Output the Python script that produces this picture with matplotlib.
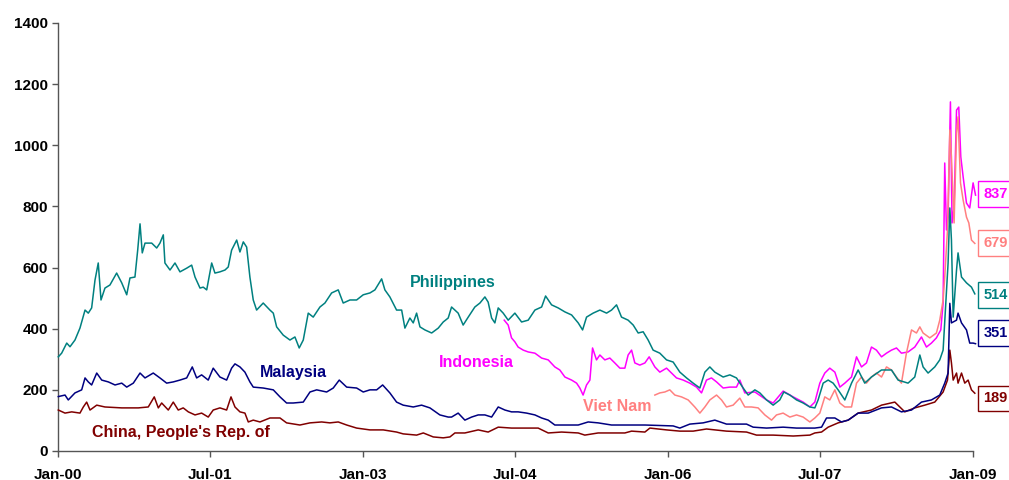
import matplotlib
matplotlib.use("Agg")
import matplotlib.pyplot as plt
import matplotlib.dates as mdates
from datetime import datetime

# ---- data (decimal year, value) ----
phil_t = [2000.003, 2000.036, 2000.086, 2000.118, 2000.167, 2000.216, 2000.266, 2000.298, 2000.331, 2000.364,
          2000.396, 2000.423, 2000.462, 2000.511, 2000.577, 2000.627, 2000.676, 2000.708, 2000.757, 2000.784,
          2000.807, 2000.829, 2000.856, 2000.922, 2000.971, 2001.003, 2001.036, 2001.052, 2001.102, 2001.151,
          2001.200, 2001.266, 2001.315, 2001.348, 2001.397, 2001.429, 2001.463, 2001.512, 2001.544, 2001.593,
          2001.643, 2001.675, 2001.708, 2001.758, 2001.790, 2001.823, 2001.856, 2001.888, 2001.921, 2001.954,
          2002.019, 2002.085, 2002.118, 2002.151, 2002.216, 2002.282, 2002.331, 2002.373, 2002.413, 2002.462,
          2002.511, 2002.577, 2002.626, 2002.692, 2002.757, 2002.806, 2002.872, 2002.938, 2003.003, 2003.069,
          2003.118, 2003.184, 2003.216, 2003.265, 2003.331, 2003.381, 2003.413, 2003.462, 2003.495, 2003.528,
          2003.561, 2003.610, 2003.676, 2003.741, 2003.790, 2003.839, 2003.872, 2003.937, 2003.986, 2004.036,
          2004.101, 2004.151, 2004.200, 2004.232, 2004.266, 2004.298, 2004.331, 2004.380, 2004.429, 2004.495,
          2004.561, 2004.626, 2004.692, 2004.758, 2004.797, 2004.856, 2004.921, 2004.987, 2005.053, 2005.118,
          2005.161, 2005.200, 2005.265, 2005.331, 2005.397, 2005.446, 2005.495, 2005.544, 2005.609, 2005.659,
          2005.708, 2005.757, 2005.806, 2005.855, 2005.921, 2005.987, 2006.052, 2006.118, 2006.184, 2006.249,
          2006.315, 2006.364, 2006.413, 2006.462, 2006.544, 2006.610, 2006.675, 2006.741, 2006.790, 2006.856,
          2006.905, 2006.971, 2007.036, 2007.101, 2007.141, 2007.200, 2007.266, 2007.331, 2007.397, 2007.446,
          2007.478, 2007.528, 2007.577, 2007.626, 2007.675, 2007.741, 2007.807, 2007.872, 2007.937, 2008.003,
          2008.102, 2008.200, 2008.265, 2008.363, 2008.429, 2008.479, 2008.511, 2008.560, 2008.626, 2008.675,
          2008.708, 2008.734, 2008.757, 2008.774, 2008.790, 2008.807, 2008.840, 2008.855, 2008.889, 2008.938,
          2008.987, 2009.020]
phil_v = [308, 320, 353, 341, 363, 402, 461, 451, 468, 559,
          615, 494, 533, 543, 582, 550, 511, 566, 569, 657,
          743, 648, 680, 680, 664, 680, 707, 615, 592, 615,
          586, 598, 608, 569, 533, 536, 527, 615, 582, 586,
          592, 602, 657, 690, 651, 684, 667, 569, 494, 461,
          484, 461, 451, 406, 379, 363, 373, 337, 363, 451,
          438, 471, 484, 517, 527, 484, 494, 494, 511, 517,
          527, 563, 527, 504, 461, 461, 402, 435, 419, 451,
          406, 396, 386, 402, 422, 435, 471, 451, 412, 438,
          471, 484, 504, 487, 435, 419, 468, 451, 428, 451,
          422, 428, 461, 471, 507, 478, 468, 455, 445, 419,
          396, 438, 451, 461, 451, 461, 478, 438, 428, 412,
          386, 390, 363, 330, 320, 298, 291, 258, 239, 222,
          206, 258, 275, 258, 242, 249, 239, 206, 183, 200,
          190, 167, 150, 167, 193, 183, 167, 157, 144, 141,
          167, 222, 232, 222, 200, 167, 222, 265, 222, 242,
          265, 265, 232, 222, 242, 314, 275, 255, 275, 298,
          330, 484, 615, 795, 690, 438, 592, 648, 569, 550,
          536, 514]

mal_t = [2000.003, 2000.069, 2000.101, 2000.167, 2000.233, 2000.266, 2000.298, 2000.331, 2000.381, 2000.430,
         2000.495, 2000.561, 2000.627, 2000.676, 2000.741, 2000.807, 2000.856, 2000.937, 2001.003, 2001.069,
         2001.134, 2001.200, 2001.266, 2001.321, 2001.364, 2001.413, 2001.478, 2001.527, 2001.593, 2001.659,
         2001.708, 2001.741, 2001.790, 2001.839, 2001.888, 2001.921, 2002.019, 2002.118, 2002.184, 2002.249,
         2002.314, 2002.413, 2002.479, 2002.545, 2002.643, 2002.708, 2002.767, 2002.840, 2002.938, 2003.003,
         2003.069, 2003.135, 2003.194, 2003.265, 2003.331, 2003.396, 2003.495, 2003.577, 2003.659, 2003.757,
         2003.839, 2003.872, 2003.937, 2004.003, 2004.069, 2004.134, 2004.200, 2004.266, 2004.331, 2004.397,
         2004.462, 2004.527, 2004.610, 2004.692, 2004.758, 2004.823, 2004.888, 2004.987, 2005.118, 2005.216,
         2005.314, 2005.446, 2005.577, 2005.774, 2006.052, 2006.118, 2006.216, 2006.347, 2006.462, 2006.577,
         2006.774, 2006.839, 2006.971, 2007.134, 2007.266, 2007.446, 2007.512, 2007.561, 2007.643, 2007.708,
         2007.774, 2007.872, 2007.971, 2008.102, 2008.200, 2008.298, 2008.397, 2008.495, 2008.593, 2008.675,
         2008.724, 2008.757, 2008.774, 2008.790, 2008.840, 2008.855, 2008.889, 2008.938, 2008.970, 2009.003,
         2009.027]
mal_v = [178, 183, 167, 190, 200, 239, 226, 216, 255, 232,
         226, 216, 222, 209, 222, 255, 239, 255, 239, 222,
         226, 232, 239, 275, 239, 249, 232, 271, 242, 232,
         271, 285, 275, 258, 226, 209, 206, 200, 177, 157,
         157, 160, 193, 200, 193, 206, 232, 209, 206, 193,
         200, 200, 216, 190, 160, 150, 144, 150, 141, 118,
         111, 111, 124, 101, 111, 118, 118, 111, 144, 134,
         128, 128, 124, 118, 108, 101, 85, 85, 85, 95,
         92, 85, 85, 85, 82, 75, 88, 92, 101, 88,
         88, 78, 75, 78, 75, 75, 78, 108, 108, 95,
         101, 124, 124, 141, 144, 128, 134, 160, 167, 183,
         222, 255, 483, 419, 428, 451, 419, 396, 353, 353,
         351]

chn_t = [2000.003, 2000.069, 2000.135, 2000.216, 2000.249, 2000.282, 2000.315, 2000.381, 2000.462, 2000.627,
         2000.790, 2000.888, 2000.947, 2000.987, 2001.020, 2001.085, 2001.134, 2001.183, 2001.232, 2001.282,
         2001.348, 2001.413, 2001.478, 2001.527, 2001.593, 2001.659, 2001.702, 2001.741, 2001.790, 2001.839,
         2001.872, 2001.921, 2001.987, 2002.085, 2002.184, 2002.249, 2002.380, 2002.479, 2002.594, 2002.675,
         2002.757, 2002.840, 2002.938, 2003.069, 2003.200, 2003.331, 2003.396, 2003.528, 2003.594, 2003.692,
         2003.790, 2003.856, 2003.905, 2004.003, 2004.134, 2004.232, 2004.331, 2004.462, 2004.593, 2004.724,
         2004.823, 2004.954, 2005.118, 2005.183, 2005.314, 2005.446, 2005.577, 2005.643, 2005.774, 2005.823,
         2005.987, 2006.118, 2006.249, 2006.380, 2006.577, 2006.774, 2006.872, 2007.036, 2007.233, 2007.397,
         2007.446, 2007.512, 2007.577, 2007.675, 2007.774, 2007.872, 2008.003, 2008.102, 2008.233, 2008.331,
         2008.429, 2008.528, 2008.626, 2008.708, 2008.751, 2008.774, 2008.790, 2008.807, 2008.840, 2008.855,
         2008.889, 2008.921, 2008.954, 2008.987, 2009.020]
chn_v = [134, 124, 128, 124, 144, 160, 134, 150, 144, 141,
         141, 144, 177, 141, 157, 134, 160, 134, 141, 128,
         118, 124, 111, 134, 141, 134, 177, 144, 128, 124,
         95, 101, 95, 108, 108, 92, 85, 92, 95, 92,
         95, 85, 75, 69, 69, 62, 56, 52, 59, 46,
         43, 46, 59, 59, 69, 62, 78, 75, 75, 75,
         59, 62, 59, 52, 59, 59, 59, 65, 62, 75,
         69, 65, 65, 72, 65, 62, 52, 52, 49, 52,
         59, 62, 78, 92, 101, 124, 134, 150, 160, 128,
         141, 150, 160, 193, 232, 330, 288, 232, 255, 222,
         255, 222, 232, 200, 189]

idn_t = [2004.390, 2004.429, 2004.462, 2004.495, 2004.527, 2004.577, 2004.626, 2004.692, 2004.758, 2004.823,
         2004.888, 2004.937, 2004.987, 2005.053, 2005.102, 2005.134, 2005.166, 2005.200, 2005.233, 2005.259,
         2005.298, 2005.331, 2005.380, 2005.429, 2005.478, 2005.528, 2005.577, 2005.609, 2005.643, 2005.675,
         2005.724, 2005.774, 2005.816, 2005.872, 2005.921, 2005.987, 2006.036, 2006.085, 2006.151, 2006.216,
         2006.282, 2006.331, 2006.380, 2006.429, 2006.479, 2006.544, 2006.610, 2006.675, 2006.708, 2006.757,
         2006.856, 2006.971, 2007.036, 2007.134, 2007.233, 2007.331, 2007.397, 2007.446, 2007.495, 2007.544,
         2007.593, 2007.643, 2007.692, 2007.741, 2007.807, 2007.856, 2007.905, 2007.954, 2008.003, 2008.052,
         2008.102, 2008.151, 2008.200, 2008.249, 2008.298, 2008.363, 2008.429, 2008.495, 2008.544, 2008.593,
         2008.642, 2008.685, 2008.708, 2008.724, 2008.741, 2008.757, 2008.780, 2008.796, 2008.816, 2008.840,
         2008.862, 2008.882, 2008.905, 2008.938, 2008.970, 2009.003, 2009.027]
idn_v = [428, 412, 370, 357, 340, 330, 324, 320, 304, 298,
         275, 265, 242, 232, 222, 206, 183, 216, 232, 337,
         298, 314, 298, 304, 288, 271, 271, 314, 330, 288,
         281, 288, 308, 275, 258, 271, 255, 239, 232, 222,
         209, 190, 232, 239, 226, 206, 209, 209, 232, 190,
         193, 167, 157, 196, 177, 160, 144, 160, 222, 255,
         271, 258, 209, 222, 242, 308, 275, 288, 340, 330,
         308, 320, 330, 337, 320, 324, 340, 373, 340, 353,
         370, 396, 484, 942, 723, 765, 1142, 746, 798, 1115,
         1125, 962, 897, 811, 795, 877, 837]

vnm_t = [2005.872, 2005.921, 2005.970, 2006.019, 2006.069, 2006.134, 2006.200, 2006.265, 2006.315, 2006.364,
         2006.413, 2006.479, 2006.528, 2006.577, 2006.642, 2006.708, 2006.757, 2006.823, 2006.888, 2006.954,
         2007.020, 2007.069, 2007.134, 2007.200, 2007.266, 2007.331, 2007.397, 2007.446, 2007.495, 2007.544,
         2007.593, 2007.643, 2007.692, 2007.741, 2007.807, 2007.856, 2007.905, 2007.954, 2008.003, 2008.052,
         2008.102, 2008.151, 2008.200, 2008.249, 2008.298, 2008.347, 2008.397, 2008.446, 2008.479, 2008.511,
         2008.577, 2008.642, 2008.675, 2008.708, 2008.724, 2008.751, 2008.774, 2008.790, 2008.816, 2008.840,
         2008.855, 2008.879, 2008.905, 2008.938, 2008.961, 2008.987, 2009.020]
vnm_v = [183, 190, 193, 200, 183, 177, 167, 144, 124, 144,
         167, 183, 167, 144, 150, 173, 144, 144, 141, 118,
         101, 118, 124, 111, 118, 111, 95, 108, 124, 177,
         167, 200, 157, 144, 144, 222, 242, 222, 242, 255,
         242, 275, 265, 242, 222, 320, 396, 386, 406, 386,
         370, 386, 428, 494, 569, 723, 1050, 962, 746, 1040,
         1093, 877, 821, 765, 746, 690, 679]

series_names = ["Philippines", "Malaysia", "China, People's Rep. of", "Indonesia", "Viet Nam"]
end_labels = ["837", "679", "514", "351", "189"]
x_tick_labels = ["Jan-00", "Jul-01", "Jan-03", "Jul-04", "Jan-06", "Jul-07", "Jan-09"]
y_ticks = [0, 200, 400, 600, 800, 1000, 1200, 1400]

# ---- styling ----
C_PHI = "#008080"
C_MAL = "#000080"
C_CHN = "#800000"
C_IDN = "#FF00FF"
C_VNM = "#FF8080"
FONT = "Liberation Sans"

base = mdates.date2num(datetime(2000, 1, 1))
def to_num(ts):
    return [base + (t - 2000.0) * 365.25 for t in ts]

fig = plt.figure(figsize=(10.09, 4.80), dpi=100)
ax = fig.add_axes([58 / 1009, 29 / 480, 915 / 1009, 428 / 480])

lw = 1.1
ax.plot(to_num(phil_t), phil_v, color=C_PHI, lw=lw, clip_on=False, zorder=3)
ax.plot(to_num(idn_t), idn_v, color=C_IDN, lw=lw, clip_on=False, zorder=2)
ax.plot(to_num(vnm_t), vnm_v, color=C_VNM, lw=lw, clip_on=False, zorder=2.5)
ax.plot(to_num(mal_t), mal_v, color=C_MAL, lw=lw, clip_on=False, zorder=4)
ax.plot(to_num(chn_t), chn_v, color=C_CHN, lw=lw, clip_on=False, zorder=3.5)

ax.set_xlim(base, mdates.date2num(datetime(2009, 1, 1)))
ax.set_ylim(0, 1400)

tick_dates = [datetime(2000, 1, 1), datetime(2001, 7, 1), datetime(2003, 1, 1), datetime(2004, 7, 1),
              datetime(2006, 1, 1), datetime(2007, 7, 1), datetime(2009, 1, 1)]
ax.set_xticks([mdates.date2num(d) for d in tick_dates])
ax.set_xticklabels(x_tick_labels, fontfamily=FONT, fontweight="bold", fontsize=11)
ax.set_yticks(y_ticks)
ax.set_yticklabels([str(v) for v in y_ticks], fontfamily=FONT, fontweight="bold", fontsize=11)
ax.tick_params(axis="both", direction="out", length=4, width=1, color="#555555", pad=3)
ax.tick_params(axis="x", pad=8)

for s in ["top", "right"]:
    ax.spines[s].set_visible(False)
for s in ["left", "bottom"]:
    ax.spines[s].set_color("#555555")
    ax.spines[s].set_linewidth(1.0)

# series name labels
name_pos = [(2003.885, 550, C_PHI), (2002.321, 258, C_MAL), (2001.210, 59, C_CHN),
            (2004.121, 288, C_IDN), (2005.498, 144, C_VNM)]
for name, (tx, ty, c) in zip(series_names, name_pos):
    ax.text(to_num([tx])[0], ty, name, color=c, fontfamily=FONT, fontweight="bold",
            fontsize=11.5, ha="center", va="center")

# end-value boxes at the right edge
box_pos = [(841, C_IDN), (680, C_VNM), (510, C_PHI), (386, C_MAL), (172, C_CHN)]
trans = ax.get_yaxis_transform()
for lab, (by, c) in zip(end_labels, box_pos):
    ax.text(1.0115, by, lab, transform=trans, color=c, fontfamily=FONT, fontweight="bold",
            fontsize=10.5, ha="left", va="center", clip_on=False,
            bbox=dict(boxstyle="square,pad=0.4", facecolor="white", edgecolor=c, linewidth=1.0))

fig.savefig("out.png", dpi=100)
